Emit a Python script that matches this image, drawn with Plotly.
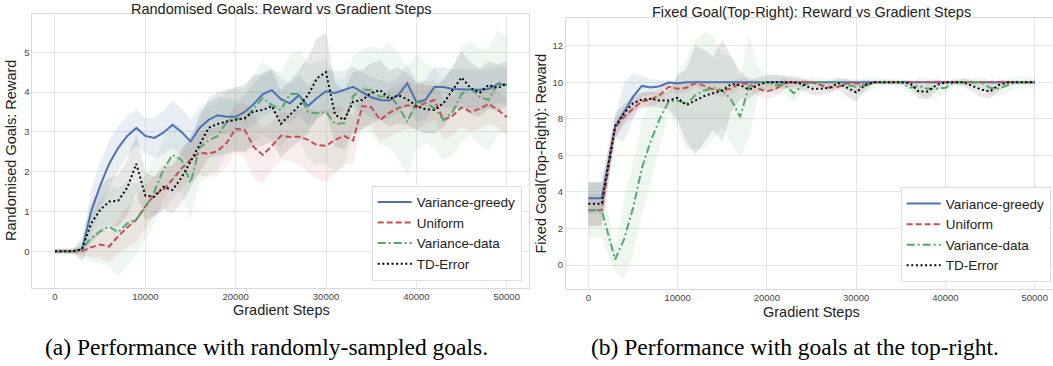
import plotly.graph_objects as go

# ---------------- data ----------------
series_names = ["Variance-greedy", "Uniform", "Variance-data", "TD-Error"]

steps_left = [0, 1000, 2000, 3000, 4000, 5000, 6000, 7000, 8000, 9000,
              10000, 11000, 12000, 13000, 14000, 15000, 16000, 17000, 18000, 19000,
              20000, 21000, 22000, 23000, 24000, 25000, 26000, 27000, 28000, 29000,
              30000, 31000, 32000, 33000, 34000, 35000, 36000, 37000, 38000, 39000,
              40000, 41000, 42000, 43000, 44000, 45000, 46000, 47000, 48000, 49000, 50000]

greedy_left = [0, 0, 0, 0.05, 1.0, 1.65, 2.2, 2.6, 2.9, 3.1,
               2.9, 2.85, 2.98, 3.18, 3.0, 2.76, 3.1, 3.3, 3.42, 3.38,
               3.38, 3.5, 3.7, 3.95, 4.05, 3.82, 3.72, 3.92, 3.65, 3.85,
               4.02, 3.98, 4.05, 4.13, 4.0, 3.87, 3.8, 3.79, 3.93, 4.22,
               3.75, 3.8, 4.13, 4.13, 4.08, 4.07, 4.07, 4.06, 4.08, 4.2, 4.17]
uniform_left = [0, 0, 0, 0, 0.1, 0.17, 0.12, 0.38, 0.6, 0.79,
                1.13, 1.42, 1.55, 1.8, 2.08, 2.3, 2.48, 2.45, 2.52, 2.72,
                3.08, 3.05, 2.62, 2.42, 2.65, 2.9, 2.87, 2.88, 2.8, 2.67,
                2.65, 2.8, 2.9, 2.78, 3.65, 3.62, 3.3, 3.48, 3.6, 3.67,
                3.62, 3.73, 3.8, 3.3, 3.4, 3.62, 3.5, 3.58, 3.7, 3.56, 3.37]
vdata_left = [0, 0, 0, 0.05, 0.33, 0.5, 0.62, 0.48, 0.7, 0.8,
              1.1, 1.5, 2.05, 2.42, 2.3, 1.72, 2.6, 2.78, 2.9, 3.25,
              3.35, 3.3, 3.6, 3.85, 3.68, 3.55, 3.95, 3.95, 3.5, 3.47,
              3.5, 3.2, 3.22, 3.9, 4.07, 4.05, 3.88, 3.92, 3.65, 3.25,
              3.75, 3.72, 3.6, 3.3, 3.5, 3.95, 4.1, 3.88, 3.8, 4.25, 4.18]
td_left = [0, 0, 0, 0.05, 0.7, 1.04, 1.25, 1.27, 1.6, 2.2,
           1.4, 1.37, 1.62, 1.54, 1.85, 2.25, 2.68, 3.1, 3.2, 3.26,
           3.3, 3.35, 3.52, 3.55, 3.65, 3.2, 3.43, 3.65, 3.92, 4.35,
           4.5, 3.43, 3.3, 3.76, 3.8, 3.98, 4.05, 3.83, 3.92, 3.82,
           3.65, 3.57, 3.55, 3.72, 4.05, 4.37, 4.1, 3.98, 4.18, 4.1, 4.22]

greedy_left_sd = [0.05, 0.05, 0.05, 0.1, 0.55, 0.6, 0.6, 0.55, 0.5, 0.45,
                  0.45, 0.5, 0.55, 0.6, 0.6, 0.55, 0.5, 0.45, 0.45, 0.45,
                  0.4, 0.45, 0.5, 0.55, 0.55, 0.55, 0.5, 0.5, 0.5, 0.55,
                  0.55, 0.55, 0.5, 0.5, 0.5, 0.5, 0.5, 0.45, 0.45, 0.5,
                  0.5, 0.5, 0.5, 0.5, 0.5, 0.5, 0.5, 0.5, 0.5, 0.45, 0.45]
uniform_left_sd = [0.08, 0.08, 0.08, 0.1, 0.25, 0.35, 0.4, 0.45, 0.5, 0.55,
                   0.55, 0.5, 0.5, 0.5, 0.5, 0.5, 0.55, 0.6, 0.6, 0.6,
                   0.6, 0.7, 0.8, 0.7, 0.6, 0.6, 0.6, 0.7, 0.8, 0.85,
                   0.9, 0.85, 0.7, 0.6, 0.5, 0.5, 0.55, 0.6, 0.6, 0.6,
                   0.55, 0.55, 0.5, 0.5, 0.5, 0.5, 0.5, 0.5, 0.5, 0.45, 0.45]
vdata_left_sd = [0.05, 0.05, 0.05, 0.2, 0.6, 0.8, 1.0, 1.1, 1.05, 0.9,
                 0.8, 0.8, 0.75, 0.8, 0.85, 0.9, 0.9, 0.85, 0.85, 0.8,
                 0.8, 0.8, 0.85, 0.9, 0.9, 0.95, 1.0, 1.1, 1.2, 1.3,
                 1.3, 1.2, 1.1, 1.0, 1.0, 1.1, 1.2, 1.3, 1.35, 1.35,
                 1.2, 1.0, 1.0, 1.0, 1.1, 1.2, 1.2, 1.2, 1.3, 1.3, 1.2]
td_left_sd = [0.05, 0.05, 0.05, 0.3, 0.5, 0.6, 0.6, 0.65, 0.7, 0.75,
              0.6, 0.5, 0.55, 0.6, 0.65, 0.65, 0.7, 0.75, 0.8, 0.8,
              0.8, 0.85, 0.9, 0.9, 0.9, 0.85, 0.85, 0.9, 0.95, 1.0,
              1.0, 0.8, 0.75, 0.75, 0.75, 0.75, 0.75, 0.7, 0.7, 0.65,
              0.6, 0.6, 0.6, 0.6, 0.6, 0.65, 0.65, 0.6, 0.6, 0.6, 0.55]

steps_right = [0, 1500, 3000, 4000, 5000, 6000, 7000, 8000, 9000, 10000,
               11000, 12000, 13000, 14000, 15000, 16000, 17000, 18000, 19000, 20000,
               21000, 22000, 23000, 24000, 25000, 26000, 27000, 28000, 29000, 30000,
               31000, 32000, 33000, 34000, 35000, 36000, 37000, 38000, 39000, 40000,
               41000, 42000, 43000, 44000, 45000, 46000, 47000, 48000, 49000, 50000]

greedy_right = [3.65, 3.65, 7.55, 8.35, 9.2, 9.8, 9.72, 9.78, 9.98, 9.95,
                10, 10, 10, 10, 10, 10, 10, 10, 10, 10,
                10, 10, 10, 10, 10, 10, 10, 10, 10, 10,
                10, 10, 10, 10, 10, 10, 10, 10, 10, 10,
                10, 10, 10, 10, 10, 10, 10, 10, 10, 10]
uniform_right = [3.0, 3.0, 7.5, 8.1, 8.55, 8.95, 9.05, 9.3, 9.75, 9.65,
                 9.7, 9.95, 9.8, 9.6, 9.55, 9.65, 9.95, 9.9, 9.65, 9.5,
                 9.65, 9.95, 10, 10, 10, 9.85, 9.7, 9.75, 9.95, 9.95,
                 9.85, 10, 10, 10, 10, 10, 10, 10, 10, 10,
                 10, 10, 10, 10, 10, 10, 10, 10, 10, 10]
vdata_right = [3.0, 3.0, 0.3, 1.4, 3.1, 5.3, 6.8, 8.0, 8.95, 9.0,
               8.8, 9.3, 9.55, 9.7, 9.55, 9.05, 8.1, 9.8, 10, 10,
               9.85, 9.85, 9.4, 9.8, 10, 10, 10, 10, 9.85, 9.75,
               9.8, 10, 10, 10, 10, 9.7, 9.8, 9.65, 9.65, 9.7,
               10, 10, 10, 10, 9.7, 9.65, 9.85, 10, 10, 9.95]
td_right = [3.35, 3.35, 7.6, 8.3, 8.85, 9.05, 9.1, 9.0, 9.0, 9.15,
            8.75, 9.0, 9.25, 9.4, 9.55, 9.9, 9.85, 9.6, 9.85, 10,
            10, 10, 10, 9.9, 9.65, 9.65, 9.7, 9.95, 9.7, 9.45,
            9.85, 10, 10, 10, 10, 9.95, 9.5, 9.5, 9.85, 10,
            10, 10, 9.8, 9.6, 9.5, 9.85, 10, 10, 10, 10]

greedy_right_sd = [0.85, 0.85, 0.55, 1.6, 1.3, 0.55, 0.45, 0.35, 0.15, 0.05,
                   0, 0, 0, 0, 0, 0, 0, 0, 0, 0,
                   0, 0, 0, 0, 0, 0, 0, 0, 0, 0,
                   0, 0, 0, 0, 0, 0, 0, 0, 0, 0,
                   0, 0, 0, 0, 0, 0, 0, 0, 0, 0]
uniform_right_sd = [0.9, 0.9, 0.5, 0.45, 0.45, 0.45, 0.4, 0.35, 0.3, 0.3,
                    0.25, 0.2, 0.25, 0.3, 0.35, 0.35, 0.3, 0.35, 0.4, 0.45,
                    0.4, 0.3, 0.2, 0.15, 0.1, 0.15, 0.2, 0.15, 0.1, 0.1,
                    0.1, 0.05, 0.05, 0.05, 0.05, 0.05, 0.05, 0.05, 0.05, 0.05,
                    0.05, 0.05, 0.05, 0.05, 0.05, 0.05, 0.05, 0.05, 0.05, 0.05]
vdata_right_sd = [1.5, 1.5, 0.7, 2.2, 2.5, 2.6, 2.2, 1.6, 0.6, 1.5,
                  2.5, 3.0, 3.2, 2.8, 2.0, 2.4, 2.2, 2.8, 0.8, 0.4,
                  0.5, 0.5, 0.5, 0.3, 0.3, 0.2, 0.2, 0.2, 0.3, 0.4,
                  0.4, 0.3, 0.2, 0.2, 0.2, 0.3, 0.4, 0.6, 0.5, 0.3,
                  0.2, 0.2, 0.2, 0.3, 0.4, 0.4, 0.4, 0.3, 0.3, 0.3]
td_right_sd = [1.2, 1.2, 0.7, 0.5, 0.45, 0.4, 0.4, 0.4, 0.5, 1.2,
               2.0, 3.0, 2.5, 2.0, 2.8, 1.5, 0.8, 0.5, 0.4, 0.4,
               0.4, 0.35, 0.35, 0.35, 0.35, 0.35, 0.3, 0.3, 0.5, 0.55,
               0.3, 0.1, 0.1, 0.1, 0.1, 0.2, 0.4, 0.4, 0.3, 0.1,
               0.1, 0.2, 0.3, 0.4, 0.4, 0.3, 0.1, 0.1, 0.1, 0.1]

x_ticks = [0, 10000, 20000, 30000, 40000, 50000]
left_title = "Randomised Goals: Reward vs Gradient Steps"
right_title = "Fixed Goal(Top-Right): Reward vs Gradient Steps"
left_ylabel = "Randomised Goals: Reward"
right_ylabel = "Fixed Goal(Top-Right): Reward"
xlabel = "Gradient Steps"
caption_a = "(a) Performance with randomly-sampled goals."
caption_b = "(b) Performance with goals at the top-right."

# ---------------- styling ----------------
colors = ["#4C72B0", "#C44E52", "#55A868", "#000000"]
fills = ["rgba(76,114,176,0.12)", "rgba(196,78,82,0.10)",
         "rgba(85,168,104,0.10)", "rgba(0,0,0,0.09)"]
dashes = ["solid", "6px,3px", "8px,3px,2px,3px", "2px,2.6px"]
FONT = "Liberation Sans, Arial, sans-serif"
W, H = 1053, 366

fig = go.Figure()

panels = [
    ("x", "y", "legend", steps_left,
     [greedy_left, uniform_left, vdata_left, td_left],
     [greedy_left_sd, uniform_left_sd, vdata_left_sd, td_left_sd]),
    ("x2", "y2", "legend2", steps_right,
     [greedy_right, uniform_right, vdata_right, td_right],
     [greedy_right_sd, uniform_right_sd, vdata_right_sd, td_right_sd]),
]

for xa, ya, leg, xs, means, sds in panels:
    for i in range(4):
        up = [m + s for m, s in zip(means[i], sds[i])]
        lo = [m - s for m, s in zip(means[i], sds[i])]
        fig.add_trace(go.Scatter(
            x=xs + xs[::-1], y=up + lo[::-1], fill="toself",
            fillcolor=fills[i], line=dict(width=0), mode="lines",
            hoverinfo="skip", showlegend=False, xaxis=xa, yaxis=ya))
    for i in range(4):
        fig.add_trace(go.Scatter(
            x=xs, y=means[i], mode="lines", name=series_names[i],
            line=dict(color=colors[i], width=2, dash=dashes[i]),
            xaxis=xa, yaxis=ya, legend=leg))

def px_x(p):
    return p / W

def px_y(p):
    return 1 - p / H

axis_common = dict(showgrid=True, gridcolor="#e6e6e6", gridwidth=1,
                   showline=True, linecolor="#d9d9d9", linewidth=1, mirror=True,
                   zeroline=False, ticks="", automargin=False,
                   tickfont=dict(family=FONT, size=9.5, color="#444444"))

fig.update_layout(
    width=W, height=H, margin=dict(l=0, r=0, t=0, b=0, autoexpand=False),
    paper_bgcolor="white", plot_bgcolor="white",
    xaxis=dict(domain=[px_x(32.4), px_x(529.3)], range=[-2500, 52500],
               tickvals=x_ticks, tickformat="d", anchor="y", **axis_common),
    yaxis=dict(domain=[px_y(288), px_y(14)], range=[-0.922, 5.962],
               dtick=1, anchor="x", **axis_common),
    xaxis2=dict(domain=[px_x(566), 1], range=[-2500, 52050],
                tickvals=x_ticks, tickformat="d", anchor="y2", **axis_common),
    yaxis2=dict(domain=[px_y(288.5), px_y(18.3)], range=[-1.286, 13.50],
                dtick=2, anchor="x2", **axis_common),
    legend=dict(x=px_x(521.7), y=px_y(280.7), xanchor="right", yanchor="bottom",
                bgcolor="white", bordercolor="#dddddd", borderwidth=1,
                font=dict(family=FONT, size=13.5, color="#222222"),
                itemwidth=34, tracegroupgap=0),
    legend2=dict(x=px_x(1050.7), y=px_y(282.3), xanchor="right", yanchor="bottom",
                 bgcolor="white", bordercolor="#dddddd", borderwidth=1,
                 font=dict(family=FONT, size=13.5, color="#222222"),
                 itemwidth=34, tracegroupgap=0),
    showlegend=True,
    hovermode=False,
)

ann = []
def text(t, x, y, size, rot=0, family=FONT, color="#222222", yanchor="middle"):
    ann.append(dict(text=t, x=px_x(x), y=px_y(y), xref="paper", yref="paper",
                    showarrow=False, textangle=rot, xanchor="center", yanchor=yanchor,
                    borderpad=0,
                    font=dict(family=family, size=size, color=color)))

text(left_title, 281, 0, 14.5, yanchor="top")
text(right_title, 811, 3.5, 14.5, yanchor="top")
text(xlabel, 281, 310, 14.5)
text(xlabel, 811, 311.5, 14.5)
text(left_ylabel, 11, 151, 14.5, rot=-90)
text(right_ylabel, 540, 153.5, 14.5, rot=-90)
text(caption_a, 266, 347, 23.5, family="Liberation Serif, Times New Roman, serif", color="#000000")
text(caption_b, 795, 347, 23.5, family="Liberation Serif, Times New Roman, serif", color="#000000")
fig.update_layout(annotations=ann)

fig.write_html("out.html", config={"displayModeBar": False},
               post_script="document.body.style.margin='0';document.body.style.padding='0';")
